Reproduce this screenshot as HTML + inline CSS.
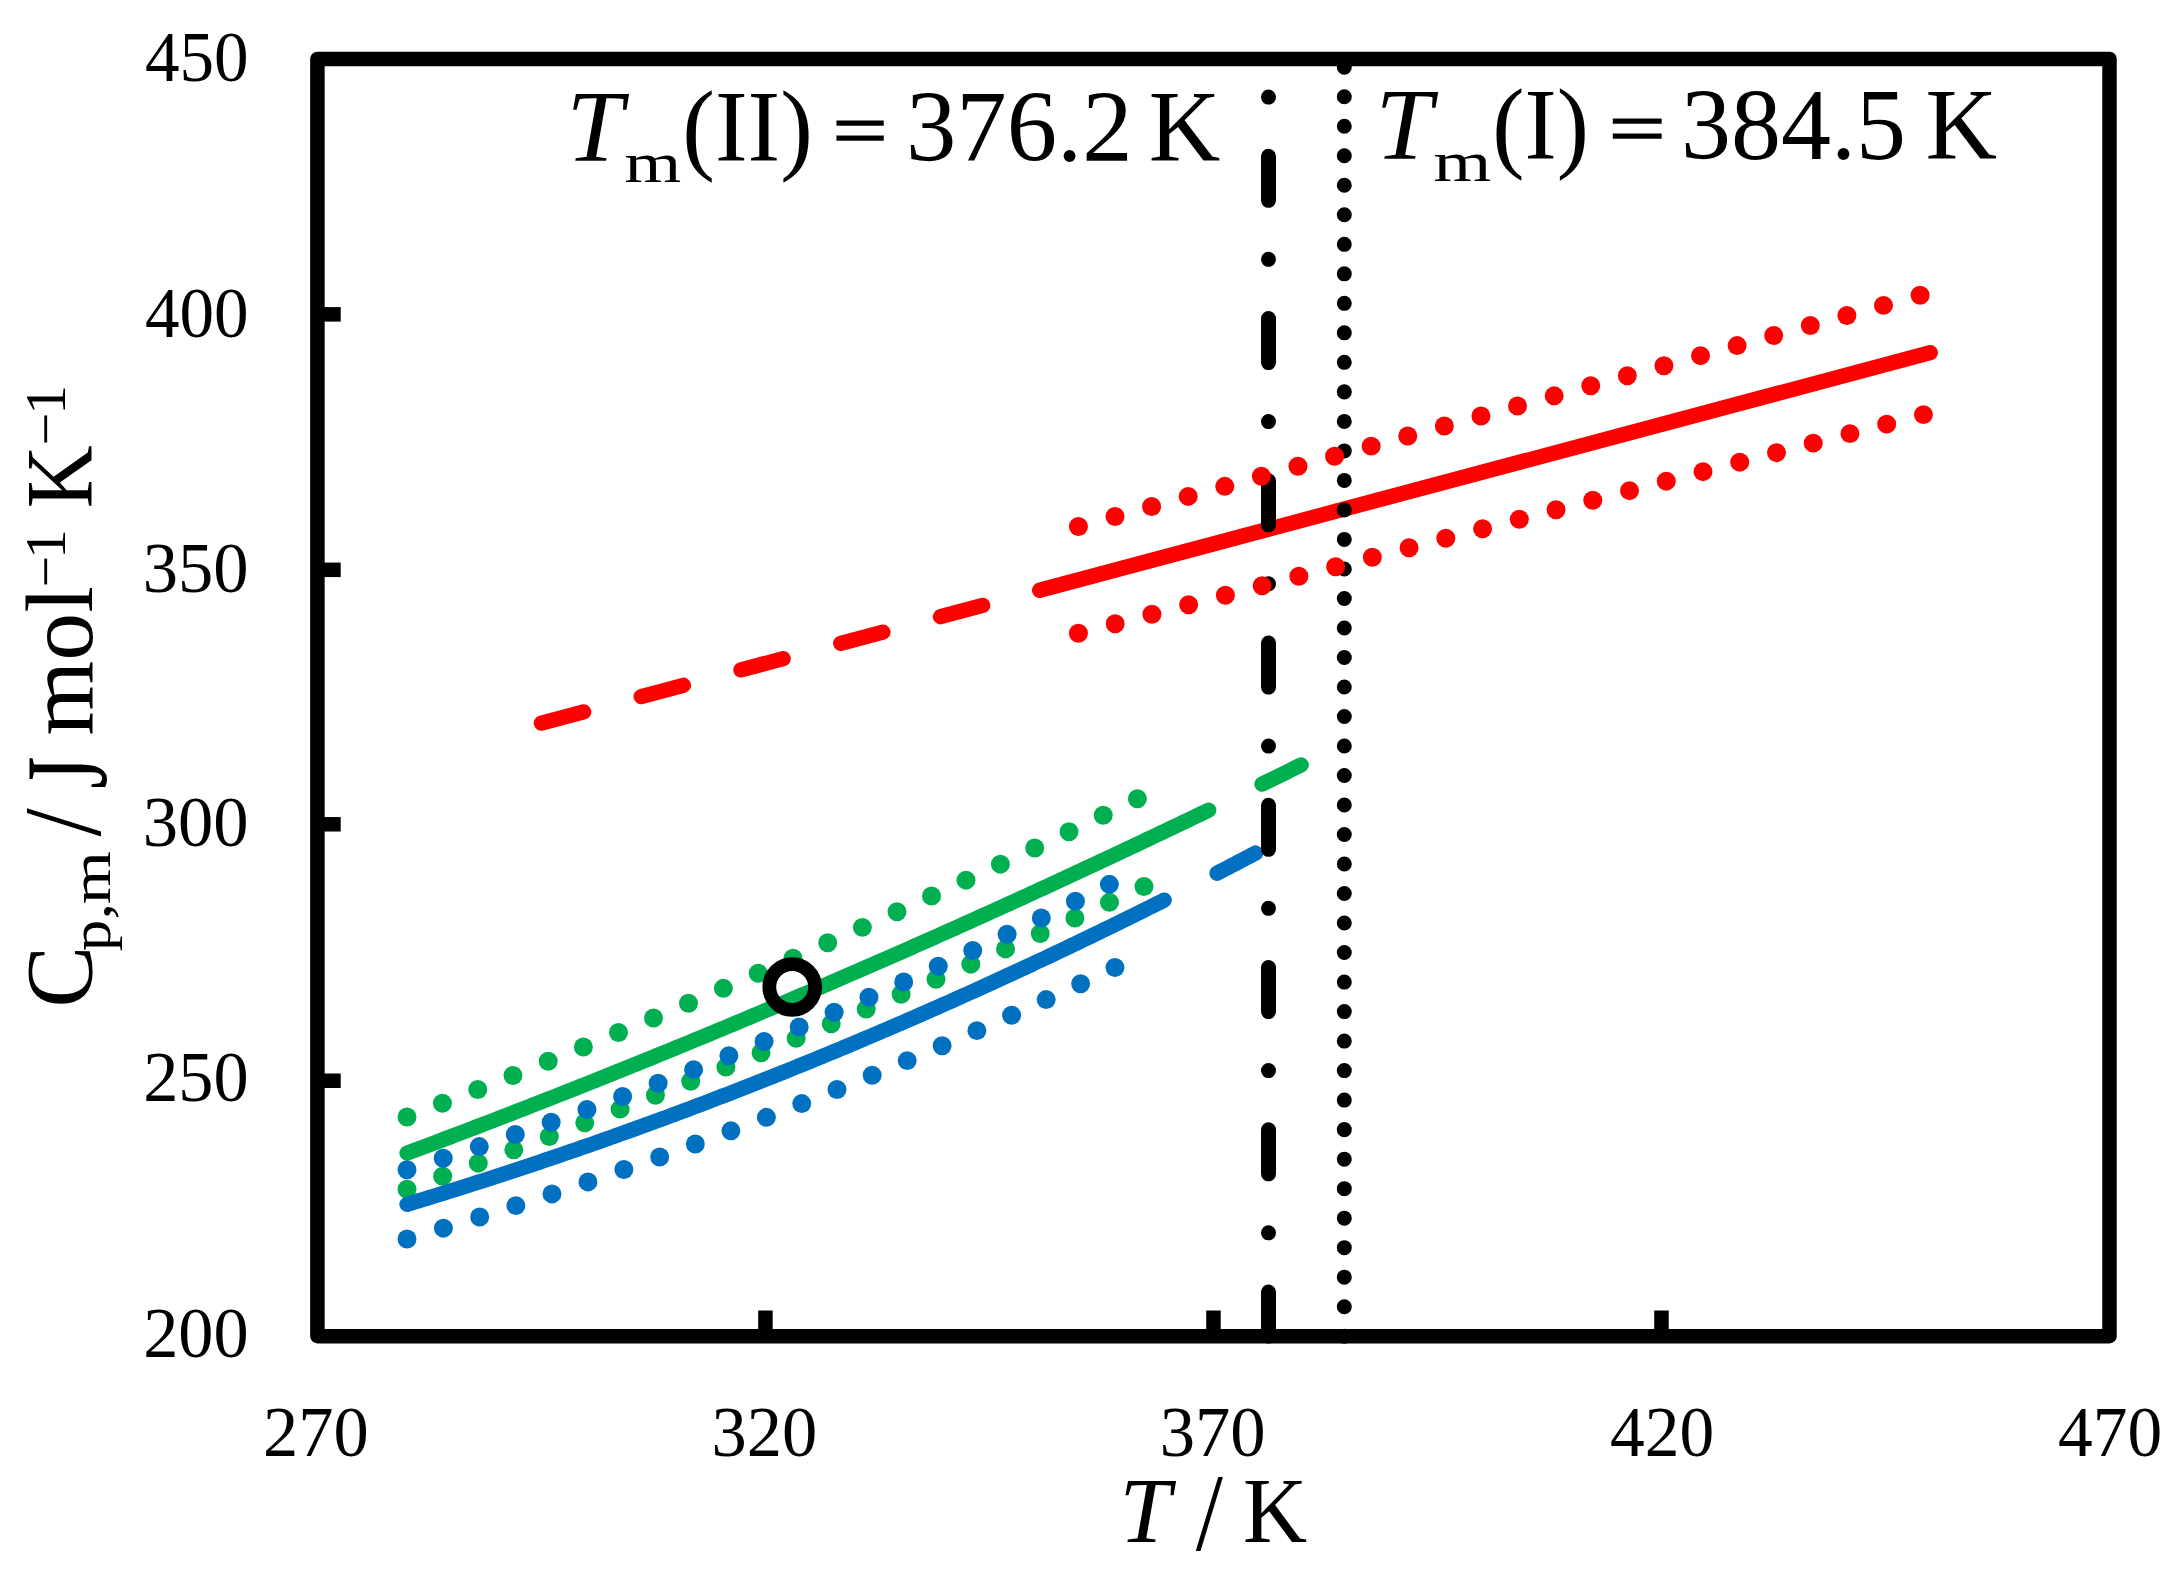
<!DOCTYPE html>
<html lang="en"><head><meta charset="utf-8"><title>Heat capacity chart</title>
<style>html,body{margin:0;padding:0;background:#fff}svg{display:block}text{font-family:"Liberation Serif",serif;fill:#000}</style></head><body>
<svg width="2184" height="1583" viewBox="0 0 2184 1583">
<rect width="2184" height="1583" fill="#fff"/>
<g fill="none" stroke-width="15.3" stroke-linecap="round" stroke-linejoin="round">
<path d="M1039.62 590.26 L1930.29 352.68" stroke="#FF0000"/>
<path d="M541.41 723.15 L1039.62 590.26" stroke="#FF0000" stroke-dasharray="43.70 59.55"/>
<path d="M407.00 1153.16 L411.03 1151.65 L415.06 1150.14 L419.09 1148.63 L423.12 1147.12 L427.15 1145.61 L431.18 1144.09 L435.21 1142.57 L439.23 1141.05 L443.26 1139.53 L447.29 1138.00 L451.32 1136.48 L455.35 1134.95 L459.38 1133.42 L463.41 1131.88 L467.43 1130.35 L471.46 1128.81 L475.49 1127.27 L479.52 1125.73 L483.55 1124.18 L487.58 1122.63 L491.61 1121.08 L495.63 1119.53 L499.66 1117.98 L503.69 1116.42 L507.72 1114.87 L511.75 1113.30 L515.78 1111.74 L519.81 1110.18 L523.84 1108.61 L527.86 1107.04 L531.89 1105.47 L535.92 1103.90 L539.95 1102.32 L543.98 1100.74 L548.01 1099.16 L552.04 1097.58 L556.06 1096.00 L560.09 1094.41 L564.12 1092.82 L568.15 1091.23 L572.18 1089.63 L576.21 1088.04 L580.24 1086.44 L584.26 1084.84 L588.29 1083.24 L592.32 1081.63 L596.35 1080.03 L600.38 1078.42 L604.41 1076.81 L608.44 1075.19 L612.46 1073.58 L616.49 1071.96 L620.52 1070.34 L624.55 1068.72 L628.58 1067.09 L632.61 1065.47 L636.64 1063.84 L640.67 1062.21 L644.69 1060.57 L648.72 1058.94 L652.75 1057.30 L656.78 1055.66 L660.81 1054.02 L664.84 1052.38 L668.87 1050.73 L672.89 1049.08 L676.92 1047.43 L680.95 1045.78 L684.98 1044.12 L689.01 1042.46 L693.04 1040.80 L697.07 1039.14 L701.09 1037.48 L705.12 1035.81 L709.15 1034.14 L713.18 1032.47 L717.21 1030.80 L721.24 1029.12 L725.27 1027.45 L729.29 1025.77 L733.32 1024.08 L737.35 1022.40 L741.38 1020.71 L745.41 1019.03 L749.44 1017.33 L753.47 1015.64 L757.50 1013.95 L761.52 1012.25 L765.55 1010.55 L769.58 1008.85 L773.61 1007.14 L777.64 1005.44 L781.67 1003.73 L785.70 1002.02 L789.72 1000.31 L793.75 998.59 L797.78 996.87 L801.81 995.15 L805.84 993.43 L809.87 991.71 L813.90 989.98 L817.92 988.25 L821.95 986.52 L825.98 984.79 L830.01 983.06 L834.04 981.32 L838.07 979.58 L842.10 977.84 L846.12 976.10 L850.15 974.35 L854.18 972.60 L858.21 970.85 L862.24 969.10 L866.27 967.34 L870.30 965.59 L874.33 963.83 L878.35 962.07 L882.38 960.30 L886.41 958.54 L890.44 956.77 L894.47 955.00 L898.50 953.23 L902.53 951.45 L906.55 949.67 L910.58 947.90 L914.61 946.11 L918.64 944.33 L922.67 942.54 L926.70 940.76 L930.73 938.97 L934.75 937.17 L938.78 935.38 L942.81 933.58 L946.84 931.78 L950.87 929.98 L954.90 928.18 L958.93 926.37 L962.95 924.57 L966.98 922.76 L971.01 920.94 L975.04 919.13 L979.07 917.31 L983.10 915.49 L987.13 913.67 L991.16 911.85 L995.18 910.02 L999.21 908.20 L1003.24 906.37 L1007.27 904.53 L1011.30 902.70 L1015.33 900.86 L1019.36 899.03 L1023.38 897.18 L1027.41 895.34 L1031.44 893.50 L1035.47 891.65 L1039.50 889.80 L1043.53 887.95 L1047.56 886.09 L1051.58 884.24 L1055.61 882.38 L1059.64 880.52 L1063.67 878.65 L1067.70 876.79 L1071.73 874.92 L1075.76 873.05 L1079.79 871.18 L1083.81 869.30 L1087.84 867.43 L1091.87 865.55 L1095.90 863.67 L1099.93 861.79 L1103.96 859.90 L1107.99 858.01 L1112.01 856.12 L1116.04 854.23 L1120.07 852.34 L1124.10 850.44 L1128.13 848.54 L1132.16 846.64 L1136.19 844.74 L1140.21 842.84 L1144.24 840.93 L1148.27 839.02 L1152.30 837.11 L1156.33 835.19 L1160.36 833.28 L1164.39 831.36 L1168.41 829.44 L1172.44 827.52 L1176.47 825.59 L1180.50 823.66 L1184.53 821.73 L1188.56 819.80 L1192.59 817.87 L1196.62 815.93 L1200.64 814.00 L1204.67 812.05 L1208.70 810.11" stroke="#00B050"/>
<path d="M1262.01 784.20 L1264.08 783.19 L1266.14 782.17 L1268.21 781.16 L1270.27 780.15 L1272.34 779.13 L1274.40 778.12 L1276.46 777.11 L1278.53 776.09 L1280.59 775.08 L1282.66 774.06 L1284.72 773.04 L1286.78 772.03 L1288.84 771.01 L1290.91 769.99 L1292.97 768.97 L1295.03 767.95 L1297.09 766.93 L1299.15 765.91 L1301.22 764.89" stroke="#00B050"/>
</g>
<g fill="#00B050"><circle cx="407.00" cy="1117.01" r="9.49"/><circle cx="442.40" cy="1103.31" r="9.49"/><circle cx="477.73" cy="1089.46" r="9.49"/><circle cx="513.00" cy="1075.46" r="9.49"/><circle cx="548.22" cy="1061.31" r="9.49"/><circle cx="583.37" cy="1047.01" r="9.49"/><circle cx="618.46" cy="1032.56" r="9.49"/><circle cx="653.49" cy="1017.97" r="9.49"/><circle cx="688.46" cy="1003.23" r="9.49"/><circle cx="723.37" cy="988.34" r="9.49"/><circle cx="758.22" cy="973.31" r="9.49"/><circle cx="793.00" cy="958.14" r="9.49"/><circle cx="827.72" cy="942.82" r="9.49"/><circle cx="862.38" cy="927.37" r="9.49"/><circle cx="896.98" cy="911.77" r="9.49"/><circle cx="931.51" cy="896.03" r="9.49"/><circle cx="965.99" cy="880.16" r="9.49"/><circle cx="1000.39" cy="864.15" r="9.49"/><circle cx="1034.74" cy="848.00" r="9.49"/><circle cx="1069.02" cy="831.72" r="9.49"/><circle cx="1103.23" cy="815.31" r="9.49"/><circle cx="1137.38" cy="798.76" r="9.49"/></g>
<g fill="#00B050"><circle cx="407.00" cy="1189.30" r="9.49"/><circle cx="442.66" cy="1176.31" r="9.49"/><circle cx="478.26" cy="1163.16" r="9.49"/><circle cx="513.81" cy="1149.87" r="9.49"/><circle cx="549.30" cy="1136.44" r="9.49"/><circle cx="584.74" cy="1122.85" r="9.49"/><circle cx="620.12" cy="1109.13" r="9.49"/><circle cx="655.44" cy="1095.26" r="9.49"/><circle cx="690.71" cy="1081.25" r="9.49"/><circle cx="725.92" cy="1067.10" r="9.49"/><circle cx="761.08" cy="1052.80" r="9.49"/><circle cx="796.18" cy="1038.37" r="9.49"/><circle cx="831.22" cy="1023.80" r="9.49"/><circle cx="866.20" cy="1009.09" r="9.49"/><circle cx="901.13" cy="994.25" r="9.49"/><circle cx="936.00" cy="979.26" r="9.49"/><circle cx="970.81" cy="964.15" r="9.49"/><circle cx="1005.56" cy="948.90" r="9.49"/><circle cx="1040.25" cy="933.51" r="9.49"/><circle cx="1074.88" cy="918.00" r="9.49"/><circle cx="1109.45" cy="902.35" r="9.49"/><circle cx="1143.97" cy="886.57" r="9.49"/></g>
<g fill="none" stroke-width="15.3" stroke-linecap="round" stroke-linejoin="round">
<path d="M407.00 1204.33 L410.81 1203.18 L414.61 1202.03 L418.42 1200.88 L422.22 1199.72 L426.03 1198.56 L429.83 1197.39 L433.64 1196.22 L437.44 1195.05 L441.25 1193.87 L445.05 1192.69 L448.86 1191.50 L452.66 1190.31 L456.47 1189.12 L460.27 1187.92 L464.08 1186.72 L467.88 1185.52 L471.69 1184.31 L475.49 1183.09 L479.30 1181.88 L483.10 1180.66 L486.91 1179.43 L490.71 1178.21 L494.52 1176.97 L498.32 1175.74 L502.13 1174.50 L505.93 1173.26 L509.74 1172.01 L513.54 1170.76 L517.35 1169.50 L521.15 1168.24 L524.95 1166.98 L528.76 1165.72 L532.56 1164.45 L536.37 1163.17 L540.17 1161.89 L543.98 1160.61 L547.78 1159.33 L551.59 1158.04 L555.39 1156.74 L559.20 1155.45 L563.00 1154.14 L566.81 1152.84 L570.61 1151.53 L574.42 1150.22 L578.22 1148.90 L582.03 1147.58 L585.83 1146.26 L589.64 1144.93 L593.44 1143.60 L597.25 1142.26 L601.05 1140.92 L604.86 1139.58 L608.66 1138.23 L612.47 1136.88 L616.27 1135.52 L620.08 1134.16 L623.88 1132.80 L627.69 1131.44 L631.49 1130.06 L635.30 1128.69 L639.10 1127.31 L642.90 1125.93 L646.71 1124.54 L650.51 1123.15 L654.32 1121.76 L658.12 1120.36 L661.93 1118.96 L665.73 1117.56 L669.54 1116.15 L673.34 1114.73 L677.15 1113.32 L680.95 1111.90 L684.76 1110.47 L688.56 1109.04 L692.37 1107.61 L696.17 1106.18 L699.98 1104.74 L703.78 1103.29 L707.59 1101.84 L711.39 1100.39 L715.20 1098.94 L719.00 1097.48 L722.81 1096.01 L726.61 1094.55 L730.42 1093.08 L734.22 1091.60 L738.03 1090.12 L741.83 1088.64 L745.64 1087.15 L749.44 1085.66 L753.25 1084.17 L757.05 1082.67 L760.85 1081.17 L764.66 1079.67 L768.46 1078.16 L772.27 1076.64 L776.07 1075.13 L779.88 1073.61 L783.68 1072.08 L787.49 1070.55 L791.29 1069.02 L795.10 1067.48 L798.90 1065.94 L802.71 1064.40 L806.51 1062.85 L810.32 1061.30 L814.12 1059.74 L817.93 1058.18 L821.73 1056.62 L825.54 1055.05 L829.34 1053.48 L833.15 1051.91 L836.95 1050.33 L840.76 1048.75 L844.56 1047.16 L848.37 1045.57 L852.17 1043.97 L855.98 1042.38 L859.78 1040.77 L863.59 1039.17 L867.39 1037.56 L871.19 1035.95 L875.00 1034.33 L878.80 1032.71 L882.61 1031.08 L886.41 1029.45 L890.22 1027.82 L894.02 1026.18 L897.83 1024.54 L901.63 1022.90 L905.44 1021.25 L909.24 1019.60 L913.05 1017.94 L916.85 1016.28 L920.66 1014.62 L924.46 1012.95 L928.27 1011.28 L932.07 1009.61 L935.88 1007.93 L939.68 1006.24 L943.49 1004.56 L947.29 1002.87 L951.10 1001.17 L954.90 999.47 L958.71 997.77 L962.51 996.07 L966.32 994.36 L970.12 992.64 L973.93 990.92 L977.73 989.20 L981.54 987.48 L985.34 985.75 L989.14 984.01 L992.95 982.28 L996.75 980.54 L1000.56 978.79 L1004.36 977.04 L1008.17 975.29 L1011.97 973.54 L1015.78 971.78 L1019.58 970.01 L1023.39 968.24 L1027.19 966.47 L1031.00 964.70 L1034.80 962.92 L1038.61 961.13 L1042.41 959.35 L1046.22 957.56 L1050.02 955.76 L1053.83 953.96 L1057.63 952.16 L1061.44 950.35 L1065.24 948.54 L1069.05 946.73 L1072.85 944.91 L1076.66 943.09 L1080.46 941.27 L1084.27 939.44 L1088.07 937.60 L1091.88 935.77 L1095.68 933.92 L1099.49 932.08 L1103.29 930.23 L1107.09 928.38 L1110.90 926.52 L1114.70 924.66 L1118.51 922.80 L1122.31 920.93 L1126.12 919.06 L1129.92 917.18 L1133.73 915.30 L1137.53 913.42 L1141.34 911.53 L1145.14 909.64 L1148.95 907.75 L1152.75 905.85 L1156.56 903.94 L1160.36 902.04 L1164.17 900.13" stroke="#0070C0"/>
<path d="M1216.98 873.21 L1219.02 872.16 L1221.06 871.10 L1223.11 870.04 L1225.15 868.98 L1227.19 867.92 L1229.23 866.86 L1231.27 865.80 L1233.31 864.74 L1235.35 863.67 L1237.39 862.61 L1239.43 861.54 L1241.47 860.48 L1243.50 859.41 L1245.54 858.34 L1247.58 857.28 L1249.61 856.21 L1251.65 855.14 L1253.69 854.07 L1255.72 852.99" stroke="#0070C0"/>
</g>
<g fill="#0070C0"><circle cx="407.00" cy="1169.72" r="9.49"/><circle cx="443.20" cy="1158.32" r="9.49"/><circle cx="479.30" cy="1146.59" r="9.49"/><circle cx="515.28" cy="1134.55" r="9.49"/><circle cx="551.16" cy="1122.19" r="9.49"/><circle cx="586.93" cy="1109.51" r="9.49"/><circle cx="622.59" cy="1096.52" r="9.49"/><circle cx="658.14" cy="1083.23" r="9.49"/><circle cx="693.57" cy="1069.63" r="9.49"/><circle cx="728.88" cy="1055.74" r="9.49"/><circle cx="764.08" cy="1041.55" r="9.49"/><circle cx="799.16" cy="1027.07" r="9.49"/><circle cx="834.12" cy="1012.31" r="9.49"/><circle cx="868.96" cy="997.26" r="9.49"/><circle cx="903.68" cy="981.93" r="9.49"/><circle cx="938.27" cy="966.33" r="9.49"/><circle cx="972.74" cy="950.46" r="9.49"/><circle cx="1007.09" cy="934.32" r="9.49"/><circle cx="1041.31" cy="917.92" r="9.49"/><circle cx="1075.41" cy="901.26" r="9.49"/><circle cx="1109.38" cy="884.34" r="9.49"/></g>
<g fill="#0070C0"><circle cx="407.00" cy="1238.94" r="9.49"/><circle cx="443.39" cy="1228.15" r="9.49"/><circle cx="479.68" cy="1217.05" r="9.49"/><circle cx="515.87" cy="1205.63" r="9.49"/><circle cx="551.97" cy="1193.91" r="9.49"/><circle cx="587.96" cy="1181.89" r="9.49"/><circle cx="623.85" cy="1169.57" r="9.49"/><circle cx="659.65" cy="1156.95" r="9.49"/><circle cx="695.33" cy="1144.04" r="9.49"/><circle cx="730.91" cy="1130.84" r="9.49"/><circle cx="766.38" cy="1117.35" r="9.49"/><circle cx="801.75" cy="1103.59" r="9.49"/><circle cx="837.00" cy="1089.54" r="9.49"/><circle cx="872.15" cy="1075.22" r="9.49"/><circle cx="907.18" cy="1060.62" r="9.49"/><circle cx="942.10" cy="1045.76" r="9.49"/><circle cx="976.90" cy="1030.63" r="9.49"/><circle cx="1011.59" cy="1015.24" r="9.49"/><circle cx="1046.16" cy="999.60" r="9.49"/><circle cx="1080.62" cy="983.69" r="9.49"/><circle cx="1114.96" cy="967.54" r="9.49"/></g>
<g fill="none" stroke="#000" stroke-width="15.0" stroke-linecap="round">
<path d="M1268.5 1336.08 V58.9" stroke-dasharray="44.00 59.25 0.01 58.99"/>
<path d="M1344.3 1336.2 V58.9" stroke-dasharray="0.01 29.50"/>
</g>
<g fill="#FF0000"><circle cx="1078.42" cy="526.56" r="9.49"/><circle cx="1115.01" cy="516.51" r="9.49"/><circle cx="1151.60" cy="506.46" r="9.49"/><circle cx="1188.20" cy="496.40" r="9.49"/><circle cx="1224.79" cy="486.35" r="9.49"/><circle cx="1261.39" cy="476.29" r="9.49"/><circle cx="1297.98" cy="466.24" r="9.49"/><circle cx="1334.57" cy="456.19" r="9.49"/><circle cx="1371.17" cy="446.13" r="9.49"/><circle cx="1407.76" cy="436.08" r="9.49"/><circle cx="1444.36" cy="426.03" r="9.49"/><circle cx="1480.95" cy="415.97" r="9.49"/><circle cx="1517.54" cy="405.92" r="9.49"/><circle cx="1554.14" cy="395.86" r="9.49"/><circle cx="1590.73" cy="385.81" r="9.49"/><circle cx="1627.33" cy="375.76" r="9.49"/><circle cx="1663.92" cy="365.70" r="9.49"/><circle cx="1700.51" cy="355.65" r="9.49"/><circle cx="1737.11" cy="345.60" r="9.49"/><circle cx="1773.70" cy="335.54" r="9.49"/><circle cx="1810.30" cy="325.49" r="9.49"/><circle cx="1846.89" cy="315.43" r="9.49"/><circle cx="1883.48" cy="305.38" r="9.49"/><circle cx="1920.08" cy="295.33" r="9.49"/></g>
<g fill="#FF0000"><circle cx="1078.42" cy="633.25" r="9.49"/><circle cx="1115.16" cy="623.75" r="9.49"/><circle cx="1151.90" cy="614.24" r="9.49"/><circle cx="1188.64" cy="604.73" r="9.49"/><circle cx="1225.38" cy="595.23" r="9.49"/><circle cx="1262.12" cy="585.72" r="9.49"/><circle cx="1298.86" cy="576.22" r="9.49"/><circle cx="1335.60" cy="566.71" r="9.49"/><circle cx="1372.34" cy="557.20" r="9.49"/><circle cx="1409.08" cy="547.70" r="9.49"/><circle cx="1445.82" cy="538.19" r="9.49"/><circle cx="1482.56" cy="528.69" r="9.49"/><circle cx="1519.30" cy="519.18" r="9.49"/><circle cx="1556.04" cy="509.67" r="9.49"/><circle cx="1592.78" cy="500.17" r="9.49"/><circle cx="1629.52" cy="490.66" r="9.49"/><circle cx="1666.26" cy="481.16" r="9.49"/><circle cx="1703.00" cy="471.65" r="9.49"/><circle cx="1739.74" cy="462.15" r="9.49"/><circle cx="1776.48" cy="452.64" r="9.49"/><circle cx="1813.22" cy="443.13" r="9.49"/><circle cx="1849.96" cy="433.63" r="9.49"/><circle cx="1886.70" cy="424.12" r="9.49"/><circle cx="1923.44" cy="414.62" r="9.49"/></g>
<circle cx="792.2" cy="987" r="22.9" fill="none" stroke="#000" stroke-width="13.8"/>
<g stroke="#000" stroke-width="14.5" fill="none">
<path d="M317.4 1080.74 H340.7"/>
<path d="M317.4 824.28 H340.7"/>
<path d="M317.4 569.82 H340.7"/>
<path d="M317.4 314.36 H340.7"/>
<path d="M765.42 1336.2 V1310.5"/>
<path d="M1213.45 1336.2 V1310.5"/>
<path d="M1661.47 1336.2 V1310.5"/>
<rect x="317.4" y="58.9" width="1792.10" height="1277.30" stroke-linejoin="round"/>
</g>
<text transform="matrix(0.9933 0 0 1.0000 566.38 160.60)" font-size="102.5" font-style="italic" >T</text>
<text transform="matrix(1.2916 0 0 1.0000 624.54 182.10)" font-size="56.5"  >m</text>
<text transform="matrix(0.9560 0 0 1.0000 682.29 160.60)" font-size="102.5"  >(II)</text>
<text transform="matrix(0.9441 0 0 0.7180 832.66 154.69)" font-size="102.5"  stroke="#000" stroke-width="2.4">=</text>
<text transform="matrix(0.9824 0 0 1.0000 905.97 160.60)" font-size="102.5"  >376.2</text>
<text transform="matrix(0.9670 0 0 1.0000 1148.63 160.60)" font-size="102.5"  >K</text>
<text transform="matrix(0.9951 0 0 1.0000 1375.57 159.00)" font-size="102.5" font-style="italic" >T</text>
<text transform="matrix(1.3155 0 0 1.0000 1433.51 180.50)" font-size="56.5"  >m</text>
<text transform="matrix(0.9434 0 0 1.0000 1492.25 159.00)" font-size="102.5"  >(I)</text>
<text transform="matrix(0.9756 0 0 0.7180 1609.00 153.09)" font-size="102.5"  stroke="#000" stroke-width="2.4">=</text>
<text transform="matrix(0.9756 0 0 1.0000 1681.00 159.00)" font-size="102.5"  >384.5</text>
<text transform="matrix(0.9684 0 0 1.0000 1925.52 159.00)" font-size="102.5"  >K</text>
<text transform="matrix(0.9766 0 0 1.0000 143.14 1356.70)" font-size="72"  >200</text>
<text transform="matrix(0.9766 0 0 1.0000 143.14 1101.24)" font-size="72"  >250</text>
<text transform="matrix(0.9801 0 0 1.0000 142.77 845.78)" font-size="72"  >300</text>
<text transform="matrix(0.9801 0 0 1.0000 142.77 592.32)" font-size="72"  >350</text>
<text transform="matrix(0.9597 0 0 1.0000 144.92 336.86)" font-size="72"  >400</text>
<text transform="matrix(0.9597 0 0 1.0000 144.92 81.40)" font-size="72"  >450</text>
<text transform="matrix(0.9786 0 0 1.0000 263.03 1456.40)" font-size="72"  >270</text>
<text transform="matrix(0.9781 0 0 1.0000 711.48 1456.40)" font-size="72"  >320</text>
<text transform="matrix(0.9811 0 0 1.0000 1159.67 1456.40)" font-size="72"  >370</text>
<text transform="matrix(0.9645 0 0 1.0000 1610.01 1456.40)" font-size="72"  >420</text>
<text transform="matrix(0.9645 0 0 1.0000 2058.01 1456.40)" font-size="72"  >470</text>
<text transform="matrix(0.9735 0 0 0.9915 1119.62 1541.80)" font-size="94.5" font-style="italic" >T</text>
<text transform="matrix(1.0351 0 0 1.1744 1195.70 1550.49)" font-size="94.5"  >/</text>
<text transform="matrix(0.9399 0 0 0.9915 1243.04 1541.80)" font-size="94.5"  >K</text>
<g transform="translate(0 1004) rotate(-90)">
<text transform="matrix(0.9765 0 0 1.0000 -3.49 92.40)" font-size="94.5"  >C</text>
<text transform="matrix(1.0943 0 0 1.0000 52.86 109.50)" font-size="57.5"  >p</text>
<text transform="matrix(1.1634 0 0 1.0000 84.42 109.50)" font-size="57.5"  >,</text>
<text transform="matrix(1.1845 0 0 1.0000 99.74 109.50)" font-size="57.5"  >m</text>
<text transform="matrix(1.0774 0 0 1.1696 167.60 99.89)" font-size="94.5"  >/</text>
<text transform="matrix(0.8768 0 0 1.2410 215.34 106.23)" font-size="94.5"  >J</text>
<text transform="matrix(1.0163 0 0 1.0000 268.48 92.40)" font-size="94.5"  >mol</text>
<text transform="matrix(0.9649 0 0 1.0000 416.83 65.30)" font-size="57.5"  >−</text>
<text transform="matrix(1.0385 0 0 1.0000 445.03 65.30)" font-size="57.5"  >1</text>
<text transform="matrix(0.9213 0 0 1.0000 495.79 92.40)" font-size="94.5"  >K</text>
<text transform="matrix(1.0136 0 0 1.0000 558.39 65.30)" font-size="57.5"  >−</text>
<text transform="matrix(1.0385 0 0 1.0000 589.23 65.30)" font-size="57.5"  >1</text>
</g>
</svg></body></html>
